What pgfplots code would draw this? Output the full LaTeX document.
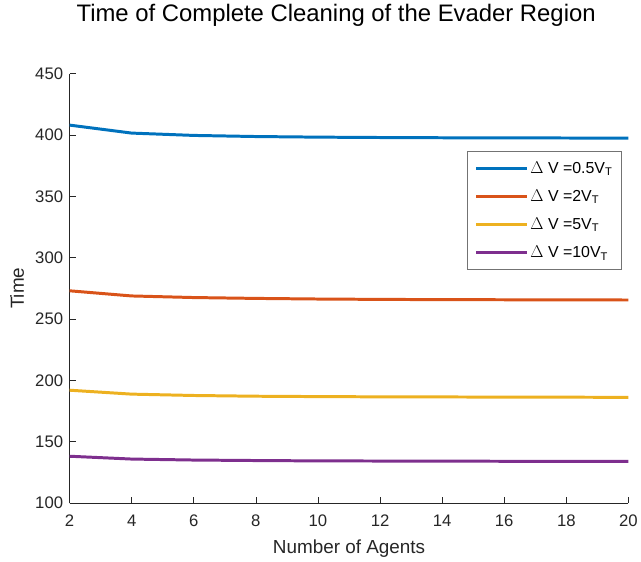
\documentclass[border=0pt]{standalone}
\usepackage{pgfplots}
\pgfplotsset{compat=1.18}
\usepackage{fontspec}
\setmainfont{Liberation Sans}

\definecolor{mBlue}{HTML}{0072BD}
\definecolor{mRed}{HTML}{D95319}
\definecolor{mYellow}{HTML}{EDB120}
\definecolor{mPurple}{HTML}{7E2F8E}

\begin{document}
\begin{tikzpicture}
\begin{axis}[
    scale only axis,
    width=562bp, height=432bp,
    xmin=2, xmax=20, ymin=100, ymax=450,
    xtick={2,4,...,20},
    ytick={100,150,...,450},
    axis x line*=bottom,
    axis y line*=left,
    tick align=inside,
    major tick length=6bp,
    axis line style={black!85, line width=0.7bp},
    tick style={black!85, line width=0.7bp},
    /pgf/number format/assume math mode=true,
    ticklabel style={font=\fontsize{16.8bp}{19bp}\selectfont, text=black!85},
    yticklabel style={xshift=-3bp},
    xticklabel style={yshift=-8bp},
    xlabel={Number of Agents},
    ylabel={Time},
    xlabel style={font=\fontsize{19bp}{22bp}\selectfont, text=black!85,
        at={(axis description cs:0.5,-0.118)}, anchor=base},
    ylabel style={font=\fontsize{19bp}{22bp}\selectfont, text=black!85,
        at={(axis description cs:-0.082,0.5)}, anchor=base},
    title={Time of Complete Cleaning of the Evader Region},
    title style={font=\fontsize{24bp}{28bp}\selectfont,
        at={(axis description cs:0.477,1.1065)}, anchor=base},
    legend style={at={(0.712,0.819)}, anchor=north west,
        font=\fontsize{16bp}{18bp}\selectfont, draw=black!55, line width=0.6bp,
        row sep=11bp, inner xsep=7bp, inner ysep=8bp},
    legend cell align=left,
    legend image code/.code={\draw[#1] (0bp,0bp) -- (51bp,0bp);},
    every axis plot/.append style={line width=3bp},
]
\addplot[mBlue] coordinates {(2,408) (4,401.5) (6,399.6) (8,398.7) (10,398.2) (12,397.9) (14,397.7) (16,397.6) (18,397.5) (20,397.4)};
\addplot[mRed] coordinates {(2,273) (4,268.8) (6,267.5) (8,266.8) (10,266.3) (12,266) (14,265.8) (16,265.7) (18,265.6) (20,265.5)};
\addplot[mYellow] coordinates {(2,192) (4,188.8) (6,187.7) (8,187.1) (10,186.8) (12,186.6) (14,186.5) (16,186.4) (18,186.3) (20,186.2)};
\addplot[mPurple] coordinates {(2,138.2) (4,135.9) (6,135.1) (8,134.7) (10,134.4) (12,134.3) (14,134.2) (16,134.1) (18,134.1) (20,134)};
\legend{$\Delta$ V =0.5V\textsubscript{T}, $\Delta$ V =2V\textsubscript{T}, $\Delta$ V =5V\textsubscript{T}, $\Delta$ V =10V\textsubscript{T}}
\end{axis}
\path (current axis.south west) ++(-70bp,-58bp);
\path (current axis.north east) ++(9bp,74bp);
\end{tikzpicture}
\end{document}
